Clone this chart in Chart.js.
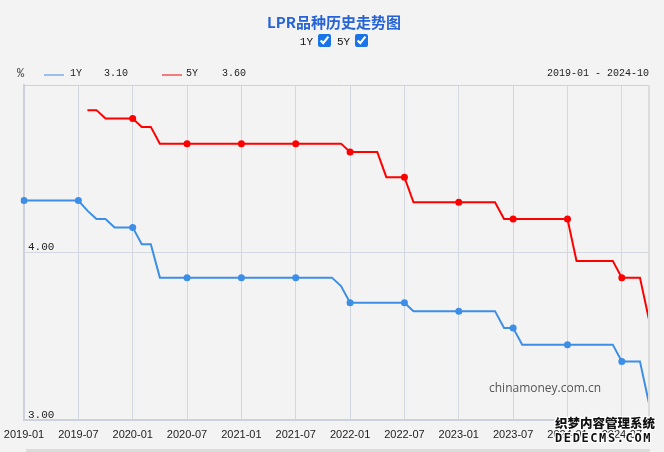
<!DOCTYPE html>
<html>
<head>
<meta charset="utf-8">
<script src="https://cdn.jsdelivr.net/npm/chart.js@4/dist/chart.umd.min.js"></script>
<style>
  html, body { margin: 0; padding: 0; background: #f3f3f3; width: 664px; height: 452px; overflow: hidden; }
  #wrap { position: relative; width: 664px; height: 452px; }
  canvas { position: absolute; left: 0; top: 0; }
  .t { position: absolute; white-space: nowrap; }
  .mono { font-family: "Liberation Mono", "DejaVu Sans Mono", monospace; font-size: 10px; color: #222; }
  #title { left: 0; width: 664px; top: 11px; padding-left: 4px; box-sizing: border-box; text-align: center; font-family: "Noto Sans CJK SC", sans-serif; font-weight: bold; font-size: 15px; color: #2563d6; }
  #checks { left: 0; width: 664px; top: 34px; padding-left: 10px; box-sizing: border-box; text-align: center; font-family: "Liberation Mono", monospace; font-size: 11px; color: #111; }
  #checks input { width: 13px; height: 13px; margin: 0 6px 0 5px; vertical-align: -2px; accent-color: #1a73e8; }
  .sw { position: absolute; height: 2px; width: 20px; top: 74px; }
  #mark { left: 489px; top: 379px; font-family: "Open Sans", "Liberation Sans", sans-serif; font-size: 12px; color: #555; }
  #dede { left: 555px; top: 416px; font-family: "Noto Sans CJK SC", sans-serif; font-weight: 900; font-size: 12.5px; color: #111; line-height: 14px;
          text-shadow: -1px -1px 0 #fff, 1px -1px 0 #fff, -1px 1px 0 #fff, 1px 1px 0 #fff, 0 1px 0 #fff, 0 -1px 0 #fff, 1px 0 0 #fff, -1px 0 0 #fff; }
  #dede .l2 { font-family: "DejaVu Sans Mono", monospace; letter-spacing: 1.6px; font-size: 12px; }
  #bar { position: absolute; left: 26px; top: 449px; width: 624px; height: 3px; background: #dcdcdc; }
</style>
</head>
<body>
<div id="wrap">
  <canvas id="c" width="664" height="452"></canvas>
  <div class="t" id="title">LPR品种历史走势图</div>
  <div class="t" id="checks">1Y<input type="checkbox" checked>5Y<input type="checkbox" checked></div>
  <div class="t mono" style="left:17px; top:67px; font-size:12px; color:#444;">%</div>
  <div class="sw" style="left:44px; background:#9cc0ee;"></div>
  <div class="t mono" style="left:70px; top:68px;">1Y</div>
  <div class="t mono" style="left:104px; top:68px;">3.10</div>
  <div class="sw" style="left:162px; background:#f07c7c;"></div>
  <div class="t mono" style="left:186px; top:68px;">5Y</div>
  <div class="t mono" style="left:222px; top:68px;">3.60</div>
  <div class="t mono" style="left:547px; top:68px;">2019-01 - 2024-10</div>
  <div class="t" id="mark">chinamoney.com.cn</div>
  <div id="bar"></div>
  <div class="t" id="dede">织梦内容管理系统<br><span class="l2">DEDECMS.COM</span></div>
</div>
<script>
// Months 2019-01 .. 2024-10
const months = [
  "2019-01","2019-02","2019-03","2019-04","2019-05","2019-06","2019-07","2019-08","2019-09","2019-10","2019-11","2019-12",
  "2020-01","2020-02","2020-03","2020-04","2020-05","2020-06","2020-07","2020-08","2020-09","2020-10","2020-11","2020-12",
  "2021-01","2021-02","2021-03","2021-04","2021-05","2021-06","2021-07","2021-08","2021-09","2021-10","2021-11","2021-12",
  "2022-01","2022-02","2022-03","2022-04","2022-05","2022-06","2022-07","2022-08","2022-09","2022-10","2022-11","2022-12",
  "2023-01","2023-02","2023-03","2023-04","2023-05","2023-06","2023-07","2023-08","2023-09","2023-10","2023-11","2023-12",
  "2024-01","2024-02","2024-03","2024-04","2024-05","2024-06","2024-07","2024-08","2024-09","2024-10"
];
const lpr1Y = [
  4.31,4.31,4.31,4.31,4.31,4.31,4.31,4.25,4.20,4.20,4.15,4.15,
  4.15,4.05,4.05,3.85,3.85,3.85,3.85,3.85,3.85,3.85,3.85,3.85,
  3.85,3.85,3.85,3.85,3.85,3.85,3.85,3.85,3.85,3.85,3.85,3.80,
  3.70,3.70,3.70,3.70,3.70,3.70,3.70,3.65,3.65,3.65,3.65,3.65,
  3.65,3.65,3.65,3.65,3.65,3.55,3.55,3.45,3.45,3.45,3.45,3.45,
  3.45,3.45,3.45,3.45,3.45,3.45,3.35,3.35,3.35,3.10
];
const lpr5Y = [
  null,null,null,null,null,null,null,4.85,4.85,4.80,4.80,4.80,
  4.80,4.75,4.75,4.65,4.65,4.65,4.65,4.65,4.65,4.65,4.65,4.65,
  4.65,4.65,4.65,4.65,4.65,4.65,4.65,4.65,4.65,4.65,4.65,4.65,
  4.60,4.60,4.60,4.60,4.45,4.45,4.45,4.30,4.30,4.30,4.30,4.30,
  4.30,4.30,4.30,4.30,4.30,4.20,4.20,4.20,4.20,4.20,4.20,4.20,
  4.20,3.95,3.95,3.95,3.95,3.95,3.85,3.85,3.85,3.60
];
const yTicks = [3.00, 4.00];

const borderPlugin = {
  id: 'frame',
  afterDraw(chart) {
    const { ctx, chartArea: a } = chart;
    ctx.save();
    ctx.strokeStyle = '#cdd1db';
    ctx.lineWidth = 1;
    ctx.beginPath();
    ctx.moveTo(a.left, a.top + 0.5); ctx.lineTo(a.right, a.top + 0.5);
    ctx.stroke();
    ctx.strokeStyle = '#dcdcdc';
    ctx.lineWidth = 2;
    ctx.beginPath();
    ctx.moveTo(a.right, a.top); ctx.lineTo(a.right, a.bottom);
    ctx.stroke();
    ctx.restore();
  }
};

const pr = c => (c.dataIndex % 6 === 0 ? 3.5 : 0);

new Chart(document.getElementById('c'), {
  type: 'line',
  data: {
    labels: months,
    datasets: [
      { label: '1Y', data: lpr1Y, borderColor: '#3d8ee6', backgroundColor: '#3d8ee6', borderWidth: 2,
        pointRadius: pr, pointHoverRadius: pr, pointBorderWidth: 0, tension: 0, spanGaps: false },
      { label: '5Y', data: lpr5Y, borderColor: '#ff0000', backgroundColor: '#ff0000', borderWidth: 2,
        pointRadius: pr, pointHoverRadius: pr, pointBorderWidth: 0, tension: 0, spanGaps: false }
    ]
  },
  options: {
    responsive: false,
    animation: false,
    events: [],
    layout: { padding: { left: 24, right: 15, top: 85, bottom: 0 } },
    plugins: { legend: { display: false }, tooltip: { enabled: false } },
    scales: {
      x: {
        type: 'category',
        offset: false,
        afterFit: s => { s.height = 32; s.paddingLeft = 0; s.paddingRight = 0; },
        border: { display: true, color: '#cdd1db', width: 2 },
        grid: { color: '#d3d7e0', drawTicks: false, lineWidth: 1 },
        ticks: {
          autoSkip: false, maxRotation: 0, padding: 8,
          color: '#222', font: { family: 'Liberation Sans', size: 11 },
          callback: (v, i) => (i % 6 === 0 ? months[i] : null)
        }
      },
      y: {
        min: 3, max: 5,
        afterFit: s => { s.width = 0; s.paddingTop = 0; s.paddingBottom = 0; },
        afterBuildTicks: s => { s.ticks = [...yTicks, 5].map(v => ({ value: v })); },
        border: { display: true, color: '#cdd1db', width: 2 },
        grid: { color: c => (c.tick && c.tick.value === 4 ? '#d3d7e0' : 'rgba(0,0,0,0)'), drawTicks: false },
        ticks: {
          mirror: true, padding: 4, labelOffset: -5,
          color: '#222', font: { family: 'Liberation Mono', size: 11 },
          callback: v => (yTicks.includes(v) ? v.toFixed(2) : '')
        }
      }
    }
  },
  plugins: [borderPlugin]
});
</script>
</body>
</html>
